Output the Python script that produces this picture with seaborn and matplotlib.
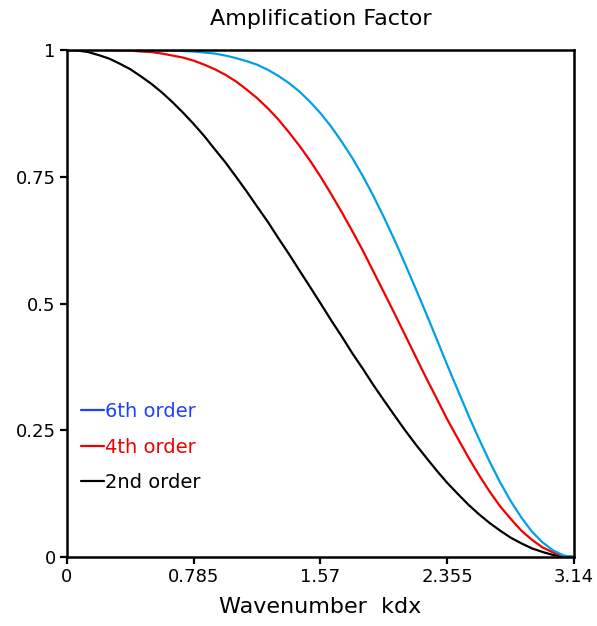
import pandas as pd
import matplotlib.pyplot as plt
import seaborn as sns
from matplotlib.lines import Line2D

# wavenumber kdx, 0 .. pi in 48 steps
kdx = [0.0, 0.065, 0.131, 0.196, 0.262, 0.327, 0.393, 0.458, 0.524, 0.589,
       0.654, 0.720, 0.785, 0.851, 0.916, 0.982, 1.047, 1.113, 1.178, 1.244,
       1.309, 1.374, 1.440, 1.505, 1.571, 1.636, 1.702, 1.767, 1.833, 1.898,
       1.963, 2.029, 2.094, 2.160, 2.225, 2.291, 2.356, 2.422, 2.487, 2.553,
       2.618, 2.683, 2.749, 2.814, 2.880, 2.945, 3.011, 3.076, 3.142]

# values
order2 = [1.0, 0.999, 0.996, 0.990, 0.983, 0.973, 0.962, 0.948, 0.933, 0.916,
          0.897, 0.876, 0.854, 0.830, 0.804, 0.778, 0.750, 0.721, 0.691, 0.661,
          0.629, 0.598, 0.565, 0.533, 0.500, 0.467, 0.435, 0.402, 0.371, 0.339,
          0.309, 0.279, 0.250, 0.222, 0.196, 0.170, 0.146, 0.124, 0.103, 0.084,
          0.067, 0.052, 0.038, 0.027, 0.017, 0.010, 0.004, 0.001, 0.0]
order4 = [1.0, 1.0, 1.0, 1.0, 1.0, 0.999, 0.999, 0.997, 0.996, 0.993,
          0.989, 0.985, 0.979, 0.971, 0.962, 0.951, 0.938, 0.922, 0.905, 0.885,
          0.863, 0.838, 0.811, 0.782, 0.750, 0.716, 0.680, 0.643, 0.604, 0.563,
          0.522, 0.480, 0.438, 0.395, 0.353, 0.312, 0.271, 0.233, 0.196, 0.161,
          0.129, 0.100, 0.075, 0.052, 0.034, 0.019, 0.009, 0.002, 0.0]
order6 = [1.0, 1.0, 1.0, 1.0, 1.0, 1.0, 1.0, 1.0, 1.0, 0.999,
          0.999, 0.998, 0.997, 0.995, 0.993, 0.989, 0.984, 0.978, 0.971, 0.961,
          0.949, 0.935, 0.918, 0.898, 0.875, 0.849, 0.819, 0.787, 0.751, 0.712,
          0.670, 0.625, 0.578, 0.529, 0.480, 0.429, 0.378, 0.328, 0.279, 0.232,
          0.188, 0.147, 0.110, 0.078, 0.050, 0.029, 0.013, 0.003, 0.0]

xticks = [0, 0.785, 1.57, 2.355, 3.14]
xticklabels = ["0", "0.785", "1.57", "2.355", "3.14"]
yticks = [0, 0.25, 0.5, 0.75, 1]
yticklabels = ["0", "0.25", "0.5", "0.75", "1"]

labels = ["6th order", "4th order", "2nd order"]
line_colors = ["#00a0e6", "#f00000", "#000000"]
legend_colors = ["#2040ff", "#f00000", "#000000"]

df = pd.DataFrame({
    "kdx": kdx * 3,
    "amp": order6 + order4 + order2,
    "order": [labels[0]] * len(kdx) + [labels[1]] * len(kdx) + [labels[2]] * len(kdx),
})

sns.set_style("ticks")
plt.rcParams["font.family"] = ["DejaVu Sans"]
plt.rcParams["text.color"] = "black"
plt.rcParams["axes.labelcolor"] = "black"

fig = plt.figure(figsize=(5.97, 6.26), dpi=100)
ax = fig.add_axes([0.1122, 0.1102, 0.8492, 0.8099])

sns.lineplot(data=df, x="kdx", y="amp", hue="order", hue_order=labels[::-1],
             palette=dict(zip(labels, line_colors)), linewidth=1.6, ax=ax, legend=False)

ax.set_xlim(0, 3.14)
ax.set_ylim(0, 1)
ax.set_xticks(xticks)
ax.set_xticklabels(xticklabels)
ax.set_yticks(yticks)
ax.set_yticklabels(yticklabels)
ax.tick_params(direction="out", length=5, width=1.6, labelsize=13, pad=3,
               top=False, right=False, colors="black")
for s in ax.spines.values():
    s.set_linewidth(1.8)
    s.set_color("black")
    s.set_visible(True)

ax.set_title("Amplification Factor", fontsize=16, pad=18, color="black")
ax.set_xlabel("Wavenumber  kdx", fontsize=16, labelpad=8)
ax.set_ylabel("")

handles = [Line2D([], [], color=c, linewidth=1.6) for c in legend_colors]
ax.legend(handles, labels, loc="lower left", bbox_to_anchor=(0.028, 0.128),
          frameon=False, handlelength=1.15, handletextpad=0.05, borderpad=0,
          borderaxespad=0, labelspacing=0.85, fontsize=14, labelcolor=legend_colors)

fig.savefig("out.png", dpi=100)
